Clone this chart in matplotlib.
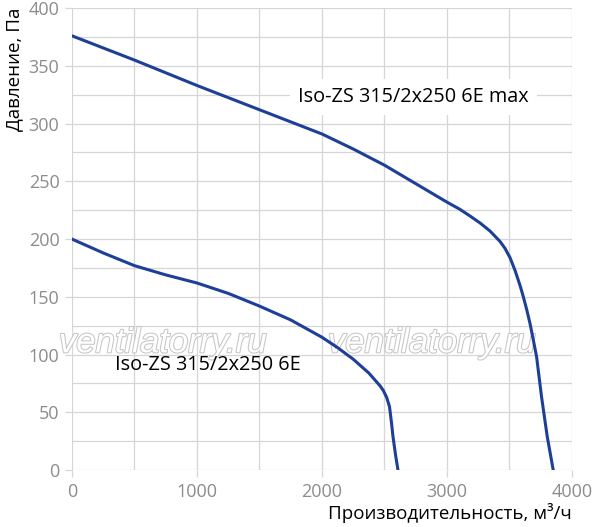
import matplotlib
matplotlib.use("Agg")
import matplotlib.pyplot as plt
import matplotlib.patheffects as pe
from matplotlib.ticker import MultipleLocator

plt.rcParams['font.family'] = ['Open Sans', 'DejaVu Sans']

# curve "max"
flow_max = [0, 500, 1000, 1500, 2000, 2250, 2500, 2750, 3000, 3100, 3184,
            3264, 3344, 3424, 3464, 3504, 3544, 3584, 3611, 3640, 3664,
            3690, 3717, 3757, 3802, 3850]
pres_max = [376, 355, 333, 312, 291, 278, 264, 248, 232, 226, 220,
            214, 207, 198, 192, 184, 173, 160, 150, 138, 127,
            113, 98, 63, 29, 0]

# curve "min"
flow_min = [0, 250, 500, 750, 1000, 1250, 1500, 1750, 2000, 2125, 2250,
            2375, 2464, 2490, 2517, 2540, 2556, 2568, 2590, 2608]
pres_min = [200, 188, 177, 169, 162, 153, 142, 130, 115, 106, 96,
            84, 73, 69, 63, 55, 41, 29, 12, 0]

LABEL_MAX = "Iso-ZS 315/2x250 6E max"
LABEL_MIN = "Iso-ZS 315/2x250 6E"
WATERMARK = "ventilatorry.ru"

LINE_COLOR = '#1d3f98'
GRID_COLOR = '#d6d6d6'
TICK_COLOR = '#8c8c8c'

fig = plt.figure(figsize=(5.97, 5.27), dpi=100)
ax = fig.add_axes([0.1206, 0.108, 0.8375, 0.8766])

ax.set_xlim(0, 4000)
ax.set_ylim(0, 400)
ax.xaxis.set_major_locator(MultipleLocator(1000))
ax.xaxis.set_minor_locator(MultipleLocator(500))
ax.yaxis.set_major_locator(MultipleLocator(50))
ax.yaxis.set_minor_locator(MultipleLocator(25))
ax.grid(which='both', color=GRID_COLOR, linewidth=0.9)
ax.set_axisbelow(True)
for s in ax.spines.values():
    s.set_visible(False)
ax.tick_params(which='major', length=5, width=0.9, color=GRID_COLOR,
               labelcolor=TICK_COLOR, labelsize=13, pad=4)
ax.tick_params(which='minor', length=0)

# watermark
for xc in [728, 2880]:
    ax.text(xc, 102, WATERMARK, fontsize=25, style='italic',
            family='Liberation Sans', color='white', ha='center',
            va='baseline', zorder=2,
            path_effects=[pe.withStroke(linewidth=1.5, foreground='#c6c6c6')])

ax.plot(flow_max, pres_max, color=LINE_COLOR, linewidth=2.2, zorder=3)
ax.plot(flow_min, pres_min, color=LINE_COLOR, linewidth=2.2, zorder=3)

ax.text(1808, 323, LABEL_MAX, fontsize=14.3, va='center', ha='left',
        zorder=4, bbox=dict(facecolor='white', edgecolor='none', pad=6))
ax.text(344, 91, LABEL_MIN, fontsize=14.3, va='center', ha='left', zorder=4)

ax.set_xlabel("Производительность, м³/ч", fontsize=13.5, loc='right',
              labelpad=2)
ax.set_ylabel("Давление, Па", fontsize=13.5, loc='top', labelpad=4)

fig.savefig("out.png", dpi=100)
